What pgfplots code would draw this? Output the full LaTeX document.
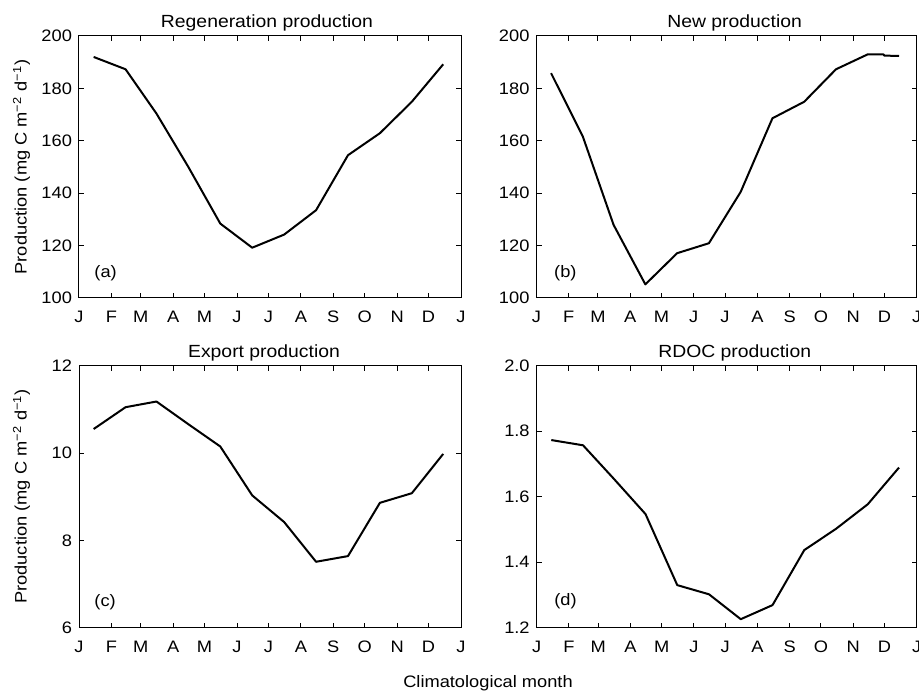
\documentclass[border=0pt]{standalone}
\usepackage{fontspec}
\setmainfont{Liberation Sans}[FakeStretch=1.1]
\usepackage{pgfplots}
\pgfplotsset{compat=1.18}
\newcommand{\fs}{\fontsize{8.3}{10}\selectfont}
\newcommand{\ft}{\fontsize{8.8}{10}\selectfont}
\pgfplotsset{
  every axis title/.style={at={(0.5,1)}, anchor=base, yshift=4.3pt, font=\ft},
  panel/.style={
    scale only axis, width=191pt, height=131pt,
    anchor=south west,
    xmin=0, xmax=365,
    xtick={0,31,59,90,120,151,181,212,243,273,304,334,365},
    xticklabels={J,F,M,A,M,J,J,A,S,O,N,D,J},
    tick align=inside, major tick length=2.5pt,
    axis line style={line width=0.5pt},
    every tick/.style={line width=0.5pt, black},
    tick label style={font=\fs},
    xticklabel style={yshift=-3pt},
    /pgf/number format/assume math mode=true,
    clip=false,
  },
  dataline/.style={black, line width=1pt, line join=round},
}
\begin{document}
\begin{tikzpicture}
\path[use as bounding box] (0pt,0pt) rectangle (459.5pt,345pt);

% (a)
\begin{axis}[panel, at={(39.5pt,196pt)}, ymin=100, ymax=200, ytick={100,120,...,200},
  title={Regeneration production}, title style={xshift=-1.5pt}]
\addplot[dataline] table {
x y
14 192.0
44.5 187.3
74 170.4
104.5 150.0
135 128.4
165.5 119.2
196 124.2
226.5 133.5
257 154.5
287.5 162.9
318 174.9
348 189.2
};
\node[anchor=west, font=\fs] at (rel axis cs:0.022,0.094) {(a)};
\end{axis}

% (b)
\begin{axis}[panel, at={(268.25pt,196pt)}, width=190.1pt, ymin=100, ymax=200, ytick={100,120,...,200},
  title={New production}, title style={xshift=4pt}]
\addplot[dataline] table {
x y
14 185.8
44.5 161.6
74 127.9
104.5 105.2
135 117.1
165.5 120.9
196 140.5
226.5 168.6
257 174.9
287.5 187.3
318 193.0
333 193.0
334 192.5
348 192.4
};
\node[anchor=west, font=\fs] at (rel axis cs:0.028,0.095) {(b)};
\end{axis}

% (c)
\begin{axis}[panel, at={(39.5pt,31.15pt)}, ymin=6, ymax=12, ytick={6,8,10,12},
  title={Export production}, title style={xshift=-3pt}]
\addplot[dataline] table {
x y
14 10.55
44.5 11.05
74 11.18
104.5 10.66
135 10.15
165.5 9.03
196 8.42
226.5 7.51
257 7.64
287.5 8.86
318 9.08
348 9.98
};
\node[anchor=west, font=\fs] at (rel axis cs:0.022,0.099) {(c)};
\end{axis}

% (d)
\begin{axis}[panel, at={(268.35pt,31.15pt)}, width=190pt, ymin=1.2, ymax=2.0, ytick={1.2,1.4,...,2.0},
  yticklabel style={/pgf/number format/.cd, fixed, fixed zerofill, precision=1},
  title={RDOC production}, title style={xshift=4pt}]
\addplot[dataline] table {
x y
14 1.773
44.5 1.757
74 1.655
104.5 1.547
135 1.330
165.5 1.302
196 1.226
226.5 1.269
257 1.437
287.5 1.502
318 1.577
348 1.689
};
\node[anchor=west, font=\fs] at (rel axis cs:0.028,0.1) {(d)};
\end{axis}

\node[rotate=90, font=\fs] at (10.75pt,261.5pt) {Production (mg C m\textsuperscript{−2} d\textsuperscript{−1})};
\node[rotate=90, font=\fs] at (10.75pt,96.8pt) {Production (mg C m\textsuperscript{−2} d\textsuperscript{−1})};
\node[anchor=base, font=\fs] at (244pt,1.5pt) {Climatological month};
\end{tikzpicture}
\end{document}
